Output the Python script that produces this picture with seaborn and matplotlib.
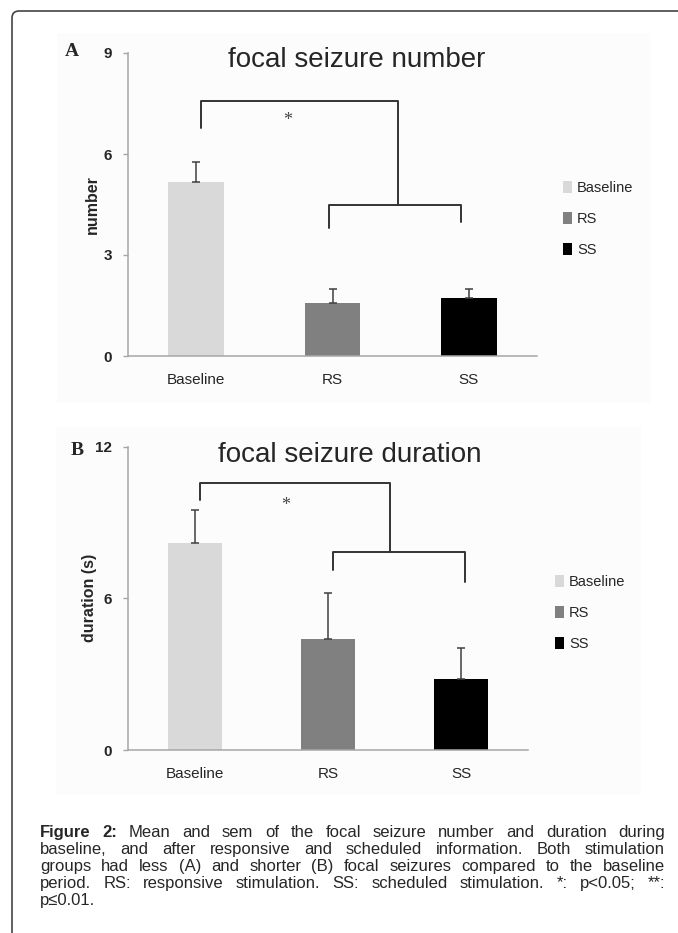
import numpy as np
import pandas as pd
import matplotlib
matplotlib.use("Agg")
import matplotlib.pyplot as plt
import seaborn as sns
from matplotlib.patches import Patch, FancyBboxPatch, Rectangle

# ----------------------------------------------------------
# Data
# ----------------------------------------------------------
groups = ["Baseline", "RS", "SS"]
bar_colors = ["#d9d9d9", "#808080", "#000000"]

number_mean = [5.18, 1.58, 1.71]
number_sem = [0.58, 0.42, 0.29]

duration_mean = [8.18, 4.39, 2.80]
duration_sem = [1.31, 1.81, 1.22]

number_ticks = [0, 3, 6, 9]
duration_ticks = [0, 6, 12]

# significance brackets: outer (Baseline vs stimulation), inner (RS..SS)
# [x_left, x_right, y_top, y_left_end, y_right_end]
number_outer = [0.036, 1.48, 7.58, 6.77, 4.48]
number_inner = [0.975, 1.94, 4.48, 3.79, 3.99]
number_star = [0.67, 6.99]

duration_outer = [0.04, 1.466, 10.57, 9.89, 7.84]
duration_inner = [1.036, 2.03, 7.84, 7.12, 6.66]
duration_star = [0.68, 9.69]

caption_lines = [
    "Figure 2: Mean and sem of the focal seizure number and duration during",
    "baseline, and after responsive and scheduled information. Both stimulation",
    "groups had less (A) and shorter (B) focal seizures compared to the baseline",
    "period. RS: responsive stimulation. SS: scheduled stimulation. *: p<0.05; **:",
    "p\u22640.01.",
]

# ----------------------------------------------------------
# Style
# ----------------------------------------------------------
sns.set_style("white")
plt.rcParams["font.family"] = ["Liberation Sans", "DejaVu Sans"]

W, H = 678, 933
fig = plt.figure(figsize=(W / 100, H / 100), dpi=100)

# outer frame with rounded corner (open to right / bottom)
fig.patches.append(FancyBboxPatch((12, -20), 720, H - 11 + 20,
                                  boxstyle="round,pad=0,rounding_size=7",
                                  transform=None, fill=False,
                                  ec="#444444", lw=1.2))
# faint panel backgrounds
fig.patches.append(Rectangle((57, H - 403), 593, 370, transform=None,
                             fc="#fcfcfc", ec="none", zorder=-5))
fig.patches.append(Rectangle((56, H - 795), 585, 368, transform=None,
                             fc="#fcfcfc", ec="none", zorder=-5))

axis_gray = "#a6a6a6"


def px_axes(x0, x1, y_top, y_bot):
    return [x0 / W, 1 - y_bot / H, (x1 - x0) / W, (y_bot - y_top) / H]


def draw_panel(ax, means, sems, ymax, yticks, title, title_xy, ylabel,
               ylabel_x, outer, inner, star):
    df = pd.DataFrame({"group": groups, "value": means})
    sns.barplot(data=df, x="group", y="value", hue="group",
                palette=bar_colors, width=0.41, saturation=1,
                errorbar=None, legend=False, linewidth=0, ax=ax)
    ax.errorbar(range(len(groups)), means,
                yerr=[np.zeros(len(sems)), sems], fmt="none",
                ecolor="#404040", elinewidth=1.1, capsize=3, capthick=1.1,
                zorder=3)

    ax.set_xlim(-0.5, 2.5)
    ax.set_ylim(0, ymax)
    ax.set_yticks(yticks)
    ax.set_yticklabels([str(t) for t in yticks], fontsize=11,
                       fontweight="bold")
    ax.set_xticks(range(len(groups)))
    ax.set_xticklabels(groups, fontsize=11)
    ax.set_xticks([-0.5, 0.5, 1.5, 2.5], minor=True)
    ax.tick_params(axis="x", which="major", length=0, pad=12)
    ax.tick_params(axis="x", which="minor", length=3.8, width=1,
                   color=axis_gray, direction="out")
    ax.tick_params(axis="y", length=3.8, width=1, color=axis_gray,
                   direction="out", pad=7.7, left=True)
    ax.set_xlabel("")
    ax.set_ylabel(ylabel, fontsize=11.5, fontweight="bold")
    ax.yaxis.set_label_coords(ylabel_x, 0.5)
    ax.yaxis.label.set_verticalalignment("center")

    for side in ["top", "right"]:
        ax.spines[side].set_visible(False)
    for side in ["left", "bottom"]:
        ax.spines[side].set_color(axis_gray)
        ax.spines[side].set_linewidth(1.1)
    ax.set_facecolor("none")

    ax.set_title(title, fontsize=20, x=title_xy[0], y=title_xy[1], pad=0)

    xl, xr, yt, yl, yr = outer
    ax.plot([xl, xl, xr, xr], [yl, yt, yt, yr], color="#333333", lw=1.4,
            clip_on=False, zorder=4)
    xl, xr, yt, yl, yr = inner
    ax.plot([xl, xl, xr, xr], [yl, yt, yt, yr], color="#333333", lw=1.4,
            clip_on=False, zorder=4)
    ax.text(star[0], star[1], "*", ha="center", va="center", fontsize=13,
            color="#444444", family="Liberation Serif")


handles = [Patch(facecolor=c, edgecolor="none") for c in bar_colors]

# ---------------- Panel A ----------------
axA = fig.add_axes(px_axes(128, 537, 53, 356))
draw_panel(axA, number_mean, number_sem, 9, number_ticks,
           "focal seizure number", (0.559, 0.954), "number", -0.088,
           number_outer, number_inner, number_star)
axA.legend(handles, groups, loc="center left",
           bbox_to_anchor=(563 / W, 1 - 219 / H), bbox_transform=fig.transFigure,
           frameon=False, fontsize=10.5, handlelength=0.62, handleheight=0.9,
           handletextpad=0.34, labelspacing=1.16, borderpad=0, borderaxespad=0)
fig.text(72 / W, 1 - 56 / H, "A", ha="center", va="baseline", fontsize=14,
         fontweight="bold", family="Liberation Serif")

# ---------------- Panel B ----------------
axB = fig.add_axes(px_axes(128.3, 527.7, 446.6, 750))
draw_panel(axB, duration_mean, duration_sem, 12, duration_ticks,
           "focal seizure duration", (0.555, 0.949), "duration (s)", -0.098,
           duration_outer, duration_inner, duration_star)
axB.legend(handles, groups, loc="center left",
           bbox_to_anchor=(555 / W, 1 - 613 / H), bbox_transform=fig.transFigure,
           frameon=False, fontsize=10.5, handlelength=0.62, handleheight=0.9,
           handletextpad=0.34, labelspacing=1.16, borderpad=0, borderaxespad=0)
fig.text(77 / W, 1 - 455 / H, "B", ha="center", va="baseline", fontsize=14,
         fontweight="bold", family="Liberation Serif")

# ---------------- Caption (justified) ----------------
renderer = fig.canvas.get_renderer()
cap_x0, cap_x1 = 40, 665
cap_y0, cap_dy = 837, 17
cap_size = 12
probe = fig.text(0, 0, "a a", fontsize=cap_size)
probe1 = fig.text(0, 0, "aa", fontsize=cap_size)
space = (probe.get_window_extent(renderer).width
         - probe1.get_window_extent(renderer).width)
probe.remove()
probe1.remove()

for i, line in enumerate(caption_lines):
    words = line.split(" ")
    ypos = 1 - (cap_y0 + i * cap_dy) / H
    texts = []
    for j, w in enumerate(words):
        weight = "bold" if (i == 0 and j < 2) else "normal"
        t = fig.text(0, ypos, w, fontsize=cap_size, fontweight=weight,
                     va="baseline", ha="left")
        texts.append(t)
    widths = [t.get_window_extent(renderer).width for t in texts]
    if i < len(caption_lines) - 1 and len(words) > 1:
        gap = (cap_x1 - cap_x0 - sum(widths)) / (len(words) - 1)
        gap = max(gap, 0.6 * space)
    else:
        gap = space
    x = cap_x0
    for t, w in zip(texts, widths):
        t.set_x(x / W)
        x += w + gap

fig.savefig("out.png", dpi=100)
